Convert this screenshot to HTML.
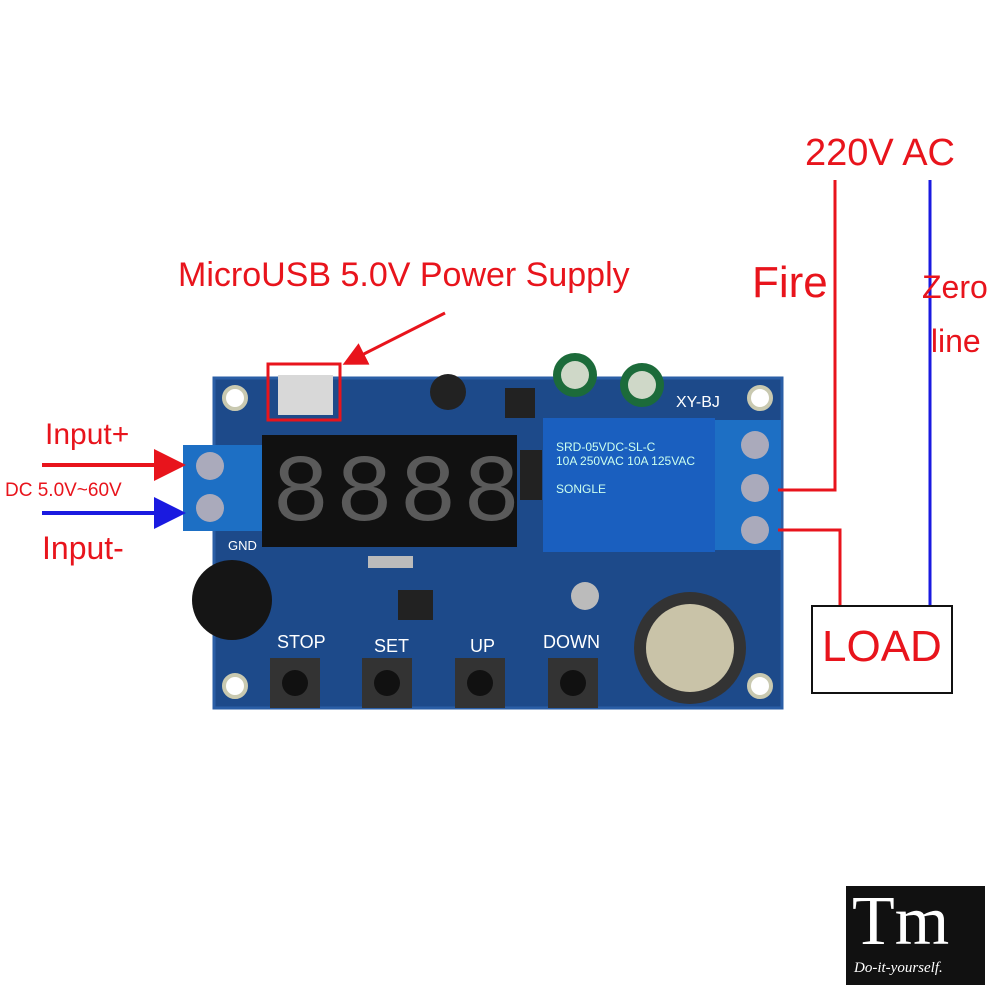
<!DOCTYPE html>
<html><head><meta charset="utf-8"><style>
body{margin:0;background:#fff;width:1000px;height:1000px;position:relative;overflow:hidden;font-family:"Liberation Sans",sans-serif}
.a{position:absolute}
.r{color:#e8141c}
</style></head><body>
<svg class="a" style="left:0;top:0" width="1000" height="1000">
<defs>
<marker id="ar" markerWidth="8" markerHeight="8" refX="6" refY="4" orient="auto"><path d="M0,0 L8,4 L0,8 Z" fill="#e8141c"/></marker>
<marker id="ab" markerWidth="8" markerHeight="8" refX="6" refY="4" orient="auto"><path d="M0,0 L8,4 L0,8 Z" fill="#1a1ae0"/></marker>
</defs>
<rect x="214" y="378" width="568" height="330" fill="#1d4a8a"/>
<rect x="214" y="378" width="568" height="330" fill="none" stroke="#2a5ea6" stroke-width="3"/>
<circle cx="235" cy="398" r="11" fill="#fff" stroke="#c9c9b0" stroke-width="4"/>
<circle cx="235" cy="686" r="11" fill="#fff" stroke="#c9c9b0" stroke-width="4"/>
<circle cx="760" cy="398" r="11" fill="#fff" stroke="#c9c9b0" stroke-width="4"/>
<circle cx="760" cy="686" r="11" fill="#fff" stroke="#c9c9b0" stroke-width="4"/>
<rect x="278" y="375" width="55" height="40" fill="#d8d8d8"/>
<rect x="268" y="364" width="72" height="56" fill="none" stroke="#e8141c" stroke-width="3"/>
<circle cx="448" cy="392" r="18" fill="#222"/>
<circle cx="575" cy="375" r="22" fill="#1c6b3a"/><circle cx="575" cy="375" r="14" fill="#cfd8c8"/>
<circle cx="642" cy="385" r="22" fill="#1c6b3a"/><circle cx="642" cy="385" r="14" fill="#cfd8c8"/>
<rect x="505" y="388" width="30" height="30" fill="#222"/>
<rect x="183" y="445" width="80" height="86" fill="#1d6fc4"/>
<circle cx="210" cy="466" r="14" fill="#aab"/><circle cx="210" cy="508" r="14" fill="#aab"/>
<rect x="262" y="435" width="255" height="112" fill="#111"/>
<rect x="543" y="418" width="172" height="134" fill="#1a5fbf"/>
<rect x="715" y="420" width="66" height="130" fill="#1d6fc4"/>
<circle cx="755" cy="445" r="14" fill="#aab"/><circle cx="755" cy="488" r="14" fill="#aab"/><circle cx="755" cy="530" r="14" fill="#aab"/>
<rect x="520" y="450" width="22" height="50" fill="#222"/>
<circle cx="232" cy="600" r="40" fill="#151515"/>
<rect x="398" y="590" width="35" height="30" fill="#222"/>
<rect x="368" y="556" width="45" height="12" fill="#bbb"/>
<circle cx="585" cy="596" r="14" fill="#bbb"/>
<circle cx="690" cy="648" r="56" fill="#333"/>
<circle cx="690" cy="648" r="44" fill="#c9c3a8"/>
<g fill="#333"><rect x="270" y="658" width="50" height="50"/><rect x="362" y="658" width="50" height="50"/><rect x="455" y="658" width="50" height="50"/><rect x="548" y="658" width="50" height="50"/></g>
<g fill="#111"><circle cx="295" cy="683" r="13"/><circle cx="387" cy="683" r="13"/><circle cx="480" cy="683" r="13"/><circle cx="573" cy="683" r="13"/></g>
<polyline points="835,180 835,490 778,490" fill="none" stroke="#e8141c" stroke-width="3"/>
<line x1="930" y1="180" x2="930" y2="606" stroke="#1a1ae0" stroke-width="3"/>
<polyline points="778,530 840,530 840,606" fill="none" stroke="#e8141c" stroke-width="3"/>
<rect x="812" y="606" width="140" height="87" fill="#fff" stroke="#111" stroke-width="2"/>
<line x1="445" y1="313" x2="348" y2="362" stroke="#e8141c" stroke-width="3" marker-end="url(#ar)"/>
<line x1="42" y1="465" x2="178" y2="465" stroke="#e8141c" stroke-width="4" marker-end="url(#ar)"/>
<line x1="42" y1="513" x2="178" y2="513" stroke="#1a1ae0" stroke-width="4" marker-end="url(#ab)"/>
<rect x="846" y="886" width="139" height="99" fill="#111"/>
</svg>
<div class="a" style="left:272px;top:440px;font-size:96px;color:#5a5a5a;letter-spacing:6px;font-family:'Liberation Mono',monospace">8888</div>
<div class="a" style="left:556px;top:440px;font-size:12px;color:#cfe;line-height:14px">SRD-05VDC-SL-C<br>10A 250VAC 10A 125VAC<br><br>SONGLE</div>
<div class="a" style="left:676px;top:394px;font-size:16px;color:#fff">XY-BJ</div>
<div class="a" style="left:277px;top:632px;font-size:18px;color:#fff">STOP</div>
<div class="a" style="left:374px;top:636px;font-size:18px;color:#fff">SET</div>
<div class="a" style="left:470px;top:636px;font-size:18px;color:#fff">UP</div>
<div class="a" style="left:543px;top:632px;font-size:18px;color:#fff">DOWN</div>
<div class="a" style="left:228px;top:538px;font-size:13px;color:#fff">GND</div>
<div class="a r" style="left:805px;top:132px;font-size:38px">220V AC</div>
<div class="a r" style="left:752px;top:258px;font-size:44px">Fire</div>
<div class="a r" style="left:922px;top:260px;font-size:32px;line-height:54px">Zero<br>&nbsp;line</div>
<div class="a r" style="left:822px;top:622px;font-size:44px">LOAD</div>
<div class="a r" style="left:178px;top:256px;font-size:34px">MicroUSB 5.0V Power Supply</div>
<div class="a r" style="left:45px;top:418px;font-size:30px">Input+</div>
<div class="a r" style="left:5px;top:480px;font-size:19px">DC 5.0V~60V</div>
<div class="a r" style="left:42px;top:530px;font-size:32px">Input-</div>
<div class="a" style="left:852px;top:882px;font-size:70px;color:#fff;font-family:'Liberation Serif',serif">Tm</div>
<div class="a" style="left:854px;top:960px;font-size:15px;color:#fff;font-family:'Liberation Serif',serif;font-style:italic">Do-it-yourself.</div>
</body></html>
